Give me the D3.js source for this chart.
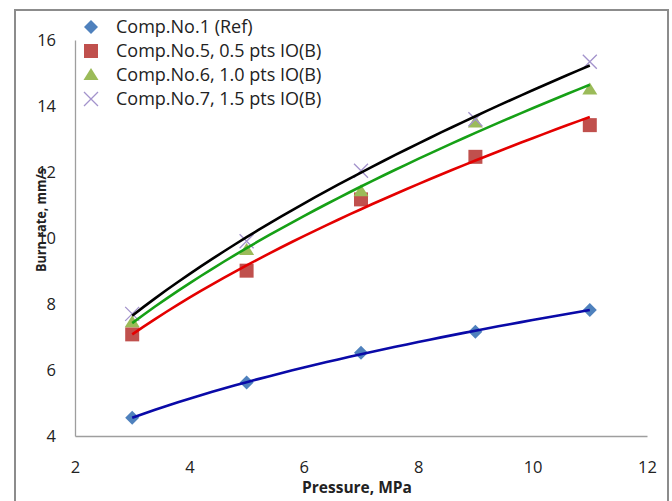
<!DOCTYPE html>
<html>
<head>
<meta charset="utf-8">
<script src="https://cdn.jsdelivr.net/npm/d3@7"></script>
<style>
  body { margin: 0; background: #fff; }
  text { font-family: "Open Sans", sans-serif; fill: #222; }
</style>
</head>
<body>
<div id="chart"></div>
<script>
// data
var pressure = [3, 5, 7, 9, 11];
var comp1 = [4.55, 5.62, 6.52, 7.16, 7.82];
var comp5 = [7.08, 9.01, 11.17, 12.46, 13.42];
var comp6 = [7.45, 9.64, 11.42, 13.5, 14.5];
var comp7 = [7.7, 9.9, 12.04, 13.6, 15.34];
var seriesNames = ["Comp.No.1 (Ref)", "Comp.No.5, 0.5 pts IO(B)", "Comp.No.6, 1.0 pts IO(B)", "Comp.No.7, 1.5 pts IO(B)"];
var xTicks = [2, 4, 6, 8, 10, 12];
var yTicks = [4, 6, 8, 10, 12, 14, 16];

var W = 672, H = 501;
var svg = d3.select("#chart").append("svg")
  .attr("width", W)
  .attr("height", H);

// outer chart border
svg.append("rect")
  .attr("x", 15).attr("y", 10)
  .attr("width", 653).attr("height", 500)
  .attr("fill", "none")
  .attr("stroke", "#8c8c8c")
  .attr("stroke-width", 2);

var x = d3.scaleLinear().domain([2, 12]).range([75, 647]);
var y = d3.scaleLinear().domain([4, 16]).range([436, 40]);

// axes (no tick marks, just line + labels)
var xAxis = svg.append("g")
  .attr("transform", "translate(0,436)")
  .call(d3.axisBottom(x).tickValues(xTicks).tickSize(0).tickPadding(0));
xAxis.select(".domain").attr("stroke", "#9e9e9e").attr("stroke-width", 1.3);
xAxis.selectAll("text")
  .attr("y", 37).attr("dy", 0)
  .style("font-size", "16.5px");

var yAxis = svg.append("g")
  .attr("transform", "translate(75,0)")
  .call(d3.axisLeft(y).tickValues(yTicks).tickSize(0).tickPadding(0));
yAxis.select(".domain").attr("stroke", "#9e9e9e").attr("stroke-width", 1.3);
yAxis.selectAll("text")
  .attr("x", -19).attr("dy", "0.35em")
  .style("font-size", "16.5px");

// axis titles
svg.append("text")
  .attr("x", 357).attr("y", 493)
  .attr("text-anchor", "middle")
  .style("font-size", "15.5px")
  .style("font-weight", "bold")
  .text("Pressure, MPa");

svg.append("text")
  .attr("transform", "translate(46,220) rotate(-90)")
  .attr("text-anchor", "middle")
  .attr("textLength", 104)
  .attr("lengthAdjust", "spacingAndGlyphs")
  .style("font-size", "15px")
  .style("font-weight", "bold")
  .text("Burn rate, mm/s");

// marker shapes
var markerColor = ["#4f81bd", "#c0504d", "#9bbb59", "#a393cc"];
var lineColor = ["#0a0aa8", "#e40000", "#16a016", "#000000"];
var allSeries = [comp1, comp5, comp6, comp7];

function markerPath(k, cx, cy) {
  var r = 7;
  if (k == 0) return "M" + cx + "," + (cy - r) + "L" + (cx + r) + "," + cy + "L" + cx + "," + (cy + r) + "L" + (cx - r) + "," + cy + "Z";
  if (k == 1) return "M" + (cx - r) + "," + (cy - r) + "h" + (2 * r) + "v" + (2 * r) + "h" + (-2 * r) + "Z";
  if (k == 2) return "M" + cx + "," + (cy - 7) + "L" + (cx + 7.5) + "," + (cy + 5) + "L" + (cx - 7.5) + "," + (cy + 5) + "Z";
  return "M" + (cx - r) + "," + (cy - r) + "L" + (cx + r) + "," + (cy + r) + "M" + (cx + r) + "," + (cy - r) + "L" + (cx - r) + "," + (cy + r);
}

function drawMarker(g, k, cx, cy) {
  var p = g.append("path").attr("d", markerPath(k, cx, cy));
  if (k == 3) p.attr("fill", "none").attr("stroke", markerColor[k]).attr("stroke-width", 1.3);
  else p.attr("fill", markerColor[k]);
}

// points
var pts = svg.append("g");
allSeries.forEach(function(s, k) {
  s.forEach(function(v, i) {
    drawMarker(pts, k, x(pressure[i]), y(v));
  });
});

// power trendlines (y = a*x^b, least squares on log-log, like Excel)
function powerFit(xs, ys) {
  var lx = xs.map(Math.log), ly = ys.map(Math.log);
  var mx = d3.mean(lx), my = d3.mean(ly);
  var b = d3.sum(lx, function(v, i) { return (v - mx) * (ly[i] - my); }) / d3.sum(lx, function(v) { return (v - mx) * (v - mx); });
  var a = Math.exp(my - b * mx);
  return function(p) { return a * Math.pow(p, b); };
}

var line = d3.line().x(function(d) { return x(d[0]); }).y(function(d) { return y(d[1]); });
allSeries.forEach(function(s, k) {
  var f = powerFit(pressure, s);
  var curve = d3.range(0, 41).map(function(i) {
    var p = 3 + i * 0.2;
    return [p, f(p)];
  });
  svg.append("path")
    .datum(curve)
    .attr("fill", "none")
    .attr("stroke", lineColor[k])
    .attr("stroke-width", 2.6)
    .attr("d", line);
});

// legend
var leg = svg.append("g");
seriesNames.forEach(function(name, k) {
  var cy = 27 + k * 24;
  drawMarker(leg, k, 91, cy);
  leg.append("text")
    .attr("x", 116).attr("y", cy + 6)
    .style("font-size", "18px")
    .text(name);
});
</script>
</body>
</html>
